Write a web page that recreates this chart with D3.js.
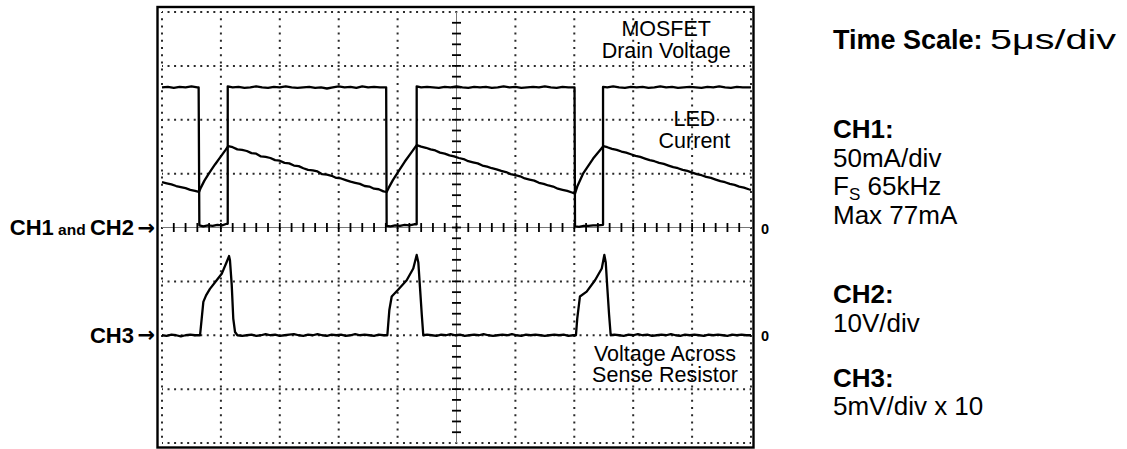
<!DOCTYPE html>
<html><head><meta charset="utf-8">
<script src="https://cdn.jsdelivr.net/npm/d3@7"></script>
<style>
body{margin:0;background:#fff}
svg{display:block;font-family:"Liberation Sans",Arial,Helvetica,sans-serif}
</style>
</head><body>
<svg id="c" width="1127" height="449"></svg>
<script>
// ---- scope settings ----
const timeDomain = [0, 50];          // µs, 5 µs/div x 10 div
const divDomain = [-4, 4];           // vertical divisions
const majorTimes = [0,5,10,15,20,25,30,35,40,45,50];
const majorDivs = [-4,-3,-2,-1,0,1,2,3,4];
const ch12Zero = 0;                  // CH1 & CH2 reference (div)
const ch3Zero = -2;                  // CH3 reference (div)

// ---- CH2: MOSFET drain voltage (div) ----
const ch2Drain = [
[0,2.60],[0.5,2.61],[1.0,2.59],[1.5,2.61],[2.0,2.60],[2.5,2.62],[3.0,2.60],[3.11,2.60],
[3.17,0.04],[3.5,0.02],[3.9,0.04],[4.3,0.03],[4.7,0.05],[5.1,0.04],[5.5,0.07],[5.58,0.07],
[5.58,2.62],[6.0,2.60],[6.5,2.61],[7.0,2.59],[7.5,2.60],[8.0,2.62],[8.5,2.60],[9.0,2.59],[9.5,2.61],[10.0,2.60],[10.5,2.62],[11.0,2.60],[11.5,2.59],[12.0,2.60],[12.5,2.61],[13.0,2.59],[13.5,2.60],[14.0,2.58],[14.5,2.60],[15.0,2.62],[15.5,2.60],[16.0,2.61],[16.5,2.59],[17.0,2.62],[17.5,2.60],[18.0,2.61],[18.5,2.60],[19.03,2.60],
[19.07,0.03],[19.4,0.02],[19.8,0.04],[20.2,0.03],[20.6,0.05],[21.0,0.04],[21.4,0.06],[21.62,0.06],
[21.62,2.62],[22.0,2.60],[22.5,2.61],[23.0,2.60],[23.5,2.59],[24.0,2.61],[24.5,2.60],[25.0,2.62],[25.5,2.60],[26.0,2.59],[26.5,2.61],[27.0,2.60],[27.5,2.61],[28.0,2.59],[28.5,2.60],[29.0,2.62],[29.5,2.60],[30.0,2.61],[30.5,2.59],[31.0,2.60],[31.5,2.61],[32.0,2.60],[32.5,2.62],[33.0,2.60],[33.5,2.59],[34.0,2.61],[34.5,2.60],[35.02,2.60],
[35.06,0.02],[35.4,0.01],[35.8,0.03],[36.2,0.03],[36.6,0.04],[37.0,0.04],[37.44,0.05],
[37.44,2.61],[37.8,2.60],[38.3,2.62],[38.8,2.60],[39.3,2.59],[39.8,2.61],[40.3,2.60],[40.8,2.61],[41.3,2.59],[41.8,2.60],[42.3,2.62],[42.8,2.60],[43.3,2.61],[43.8,2.59],[44.3,2.60],[44.8,2.61],[45.3,2.60],[45.8,2.59],[46.3,2.61],[46.8,2.60],[47.3,2.62],[47.8,2.60],[48.3,2.59],[48.8,2.61],[49.3,2.60],[50,2.60]
];

// ---- CH1: LED current (div) ----
const ch1Led = [
[0,0.84],[0.4,0.82],[0.8,0.80],[1.2,0.77],[1.6,0.75],[2.0,0.73],[2.4,0.70],[2.8,0.68],[3.14,0.66],
[3.3,0.74],[3.6,0.87],[4.0,1.01],[4.5,1.17],[5.0,1.32],[5.4,1.44],[5.62,1.51],
[6.0,1.49],[6.4,1.45],[6.8,1.44],[7.2,1.42],[7.6,1.38],[8.0,1.37],[8.4,1.32],[8.8,1.31],[9.2,1.29],[9.6,1.25],[10.0,1.24],[10.4,1.20],[10.8,1.19],[11.2,1.15],[11.6,1.14],[12.0,1.10],[12.4,1.07],[12.8,1.06],[13.2,1.04],[13.6,0.99],[14.0,0.98],[14.4,0.96],[14.8,0.92],[15.2,0.91],[15.6,0.88],[16.0,0.85],[16.4,0.83],[16.8,0.81],[17.2,0.77],[17.6,0.76],[18.0,0.72],[18.4,0.71],[18.8,0.67],[19.07,0.66],
[19.25,0.74],[19.6,0.88],[20.1,1.05],[20.6,1.22],[21.1,1.37],[21.62,1.53],
[22.0,1.50],[22.4,1.48],[22.8,1.45],[23.2,1.43],[23.6,1.39],[24.0,1.37],[24.4,1.34],[24.8,1.32],[25.2,1.29],[25.6,1.27],[26.0,1.23],[26.4,1.21],[26.8,1.19],[27.2,1.15],[27.6,1.13],[28.0,1.10],[28.4,1.08],[28.8,1.05],[29.2,1.03],[29.6,0.99],[30.0,0.97],[30.4,0.95],[30.8,0.91],[31.2,0.89],[31.6,0.87],[32.0,0.83],[32.4,0.81],[32.8,0.78],[33.2,0.76],[33.6,0.72],[34.0,0.70],[34.4,0.68],[34.8,0.65],[35.06,0.63],
[35.25,0.76],[35.77,1.01],[36.6,1.28],[37.46,1.51],
[37.8,1.49],[38.2,1.46],[38.6,1.44],[39.0,1.41],[39.4,1.39],[39.8,1.36],[40.2,1.33],[40.6,1.31],[41.0,1.28],[41.4,1.25],[41.8,1.23],[42.2,1.20],[42.6,1.18],[43.0,1.15],[43.4,1.12],[43.8,1.10],[44.2,1.07],[44.6,1.05],[45.0,1.02],[45.4,0.99],[45.8,0.97],[46.2,0.94],[46.6,0.92],[47.0,0.89],[47.4,0.86],[47.8,0.84],[48.2,0.81],[48.6,0.79],[49.0,0.76],[49.4,0.74],[49.8,0.71],[50,0.70]
];

// ---- CH3: voltage across sense resistor (div, relative to CH3 reference) ----
const ch3Sense = [
[0,0.00],[0.4,-0.01],[0.8,0.01],[1.2,0.00],[1.6,-0.02],[2.0,0.00],[2.4,0.01],[2.8,0.00],[3.23,0.00],
[3.37,0.31],[3.51,0.62],[3.74,0.74],[4.07,0.86],[4.64,1.02],[5.07,1.14],[5.49,1.36],[5.69,1.47],[5.77,1.39],[5.92,0.93],[6.05,0.31],[6.20,0.06],
[6.4,0.00],[6.8,-0.01],[7.2,0.00],[7.6,0.01],[8.0,-0.01],[8.4,0.00],[8.8,0.02],[9.2,0.00],[9.6,0.01],[10.0,-0.01],[10.4,0.00],[10.8,0.01],[11.2,0.02],[11.6,0.00],[12.0,-0.01],[12.4,0.01],[12.8,0.00],[13.2,0.02],[13.6,0.00],[14.0,-0.01],[14.4,0.01],[14.8,0.00],[15.2,0.01],[15.6,-0.01],[16.0,0.00],[16.4,0.02],[16.8,0.00],[17.2,0.01],[17.6,0.00],[18.0,-0.01],[18.4,0.01],[18.8,0.00],[19.13,0.00],
[19.30,0.47],[19.50,0.72],[20.06,0.85],[20.77,1.02],[21.33,1.24],[21.62,1.49],[21.76,1.35],[21.90,0.89],[22.05,0.39],[22.18,0.00],
[22.5,0.01],[22.9,0.00],[23.3,-0.01],[23.7,0.01],[24.1,0.00],[24.5,0.02],[24.9,0.00],[25.3,0.01],[25.7,-0.01],[26.1,0.00],[26.5,0.01],[26.9,0.00],[27.3,0.02],[27.7,0.00],[28.1,-0.01],[28.5,0.00],[28.9,0.01],[29.3,0.00],[29.7,0.02],[30.1,0.00],[30.5,-0.01],[30.9,0.01],[31.3,0.00],[31.7,0.01],[32.1,0.00],[32.5,-0.01],[32.9,0.00],[33.3,0.01],[33.7,0.00],[34.1,0.01],[34.5,-0.01],[34.9,0.00],[35.14,0.00],
[35.25,0.31],[35.48,0.72],[36.05,0.81],[36.76,1.02],[37.33,1.24],[37.55,1.49],[37.67,1.35],[37.80,0.89],[37.95,0.39],[38.09,0.00],
[38.4,0.01],[38.8,0.00],[39.2,-0.01],[39.6,0.01],[40.0,0.00],[40.4,0.02],[40.8,0.00],[41.2,0.01],[41.6,-0.01],[42.0,0.00],[42.4,0.01],[42.8,0.00],[43.2,0.02],[43.6,0.00],[44.0,-0.01],[44.4,0.01],[44.8,0.00],[45.2,0.01],[45.6,0.00],[46.0,-0.01],[46.4,0.01],[46.8,0.00],[47.2,0.01],[47.6,0.00],[48.0,-0.01],[48.4,0.01],[48.8,0.00],[49.2,0.01],[49.6,0.00],[50,0.00]
];

// ---- text ----
const traceLabels = [
  {lines:["MOSFET","Drain Voltage"], t:42.8, d:3.55},
  {lines:["LED","Current"], t:45.2, d:1.88},
  {lines:["Voltage Across","Sense Resistor"], t:42.7, d:-2.47}
];
const infoBlocks = [
  {head:"Time Scale:", tail:"5\u03bcs/div", y:49},
  {head:"CH1:", y:138}, {text:"50mA/div", y:167}, {fs:true, y:195}, {text:"Max 77mA", y:224},
  {head:"CH2:", y:303}, {text:"10V/div", y:332},
  {head:"CH3:", y:387}, {text:"5mV/div x 10", y:415}
];

const svg = d3.select("#c");
const x = d3.scaleLinear().domain(timeDomain).range([162, 751]);
const y = d3.scaleLinear().domain(divDomain).range([443, 12]);

// grid (dotted)
const grid = svg.append("g").attr("stroke","#2a2a2a").attr("stroke-width",2);
grid.selectAll(".gv").data(majorTimes.filter(t=>t!==25)).join("line")
  .attr("x1",d=>x(d)).attr("x2",d=>x(d)).attr("y1",y(4)).attr("y2",y(-4))
  .attr("stroke-dasharray","2 5.2").attr("stroke-dashoffset",1);
grid.selectAll(".gh").data(majorDivs.filter(d=>d!==0)).join("line")
  .attr("y1",d=>y(d)).attr("y2",d=>y(d)).attr("x1",x(0)).attr("x2",x(50))
  .attr("stroke-dasharray","2 4.54").attr("stroke-dashoffset",1);

// centre axes with minor ticks
const ax = svg.append("g");
ax.append("line").attr("x1",x(0)).attr("x2",x(50)).attr("y1",y(0)).attr("y2",y(0))
  .attr("stroke","#777").attr("stroke-width",1);
ax.append("line").attr("x1",x(25)).attr("x2",x(25)).attr("y1",y(4)).attr("y2",y(-4))
  .attr("stroke","#777").attr("stroke-width",1);
const minorT = d3.range(1,50,1);
const minorD = d3.range(-19,20,1).map(v=>v/5);
ax.selectAll(".tx").data(minorT).join("line")
  .attr("x1",d=>x(d)).attr("x2",d=>x(d)).attr("y1",y(0)-4.5).attr("y2",y(0)+4.5)
  .attr("stroke","#000").attr("stroke-width",1.8);
ax.selectAll(".ty").data(minorD).join("line")
  .attr("y1",d=>y(d)).attr("y2",d=>y(d)).attr("x1",x(25)-4.5).attr("x2",x(25)+4.5)
  .attr("stroke","#000").attr("stroke-width",1.8);

// frame
svg.append("rect").attr("x",157.5).attr("y",7).attr("width",596).attr("height",440.5)
  .attr("fill","none").attr("stroke","#000").attr("stroke-width",2.4);

// traces
const line = d3.line().x(d=>x(d[0])).y(d=>y(d[1]));
const lineCh3 = d3.line().x(d=>x(d[0])).y(d=>y(d[1]+ch3Zero));
const tr = svg.append("g").attr("fill","none").attr("stroke","#000")
  .attr("stroke-width",2.3).attr("stroke-linejoin","round");
tr.append("path").attr("d",line(ch2Drain));
tr.append("path").attr("d",line(ch1Led));
tr.append("path").attr("d",lineCh3(ch3Sense));

// in-screen labels
traceLabels.forEach(lb=>{
  const t = svg.append("text").attr("text-anchor","middle").attr("font-size",21.5).attr("fill","#000");
  lb.lines.forEach((s,i)=>t.append("tspan").attr("x",x(lb.t)).attr("y",y(lb.d)+i*21.5).text(s));
});

// left channel markers
function marker(parts, yv){
  const t = svg.append("text").attr("text-anchor","end").attr("x",134).attr("y",y(yv)+7.5)
    .attr("font-weight","bold").attr("fill","#000");
  parts.forEach(p=>t.append("tspan").attr("font-size",p[1]).text(p[0]));
  svg.append("text").attr("text-anchor","end").attr("x",155).attr("y",y(yv)+7)
    .attr("font-family","'DejaVu Sans',sans-serif").attr("font-weight","bold")
    .attr("font-size",21).text("\u2192");
}
marker([["CH1",22],[" and ",15.5],["CH2",22]], ch12Zero);
marker([["CH3",22]], ch3Zero);
[ch12Zero, ch3Zero].forEach(v=>svg.append("text").attr("x",761).attr("y",y(v)+6)
  .attr("font-size",14.5).attr("font-weight","bold").text("0"));

// info column
infoBlocks.forEach(b=>{
  const t = svg.append("text").attr("x",833).attr("y",b.y).attr("font-size",26).attr("fill","#000");
  if(b.head){ t.append("tspan").attr("font-weight","bold").attr("font-size",b.tail?27:26).text(b.head);
    if(b.tail) svg.append("text").attr("x",990).attr("y",b.y).attr("font-size",27)
      .attr("textLength",126).attr("lengthAdjust","spacingAndGlyphs").text(b.tail); }
  else if(b.fs){ t.append("tspan").text("F"); t.append("tspan").attr("font-size",17).attr("dy",5).text("S");
    t.append("tspan").attr("dy",-5).text(" 65kHz"); }
  else t.text(b.text);
});
</script>
</body></html>
